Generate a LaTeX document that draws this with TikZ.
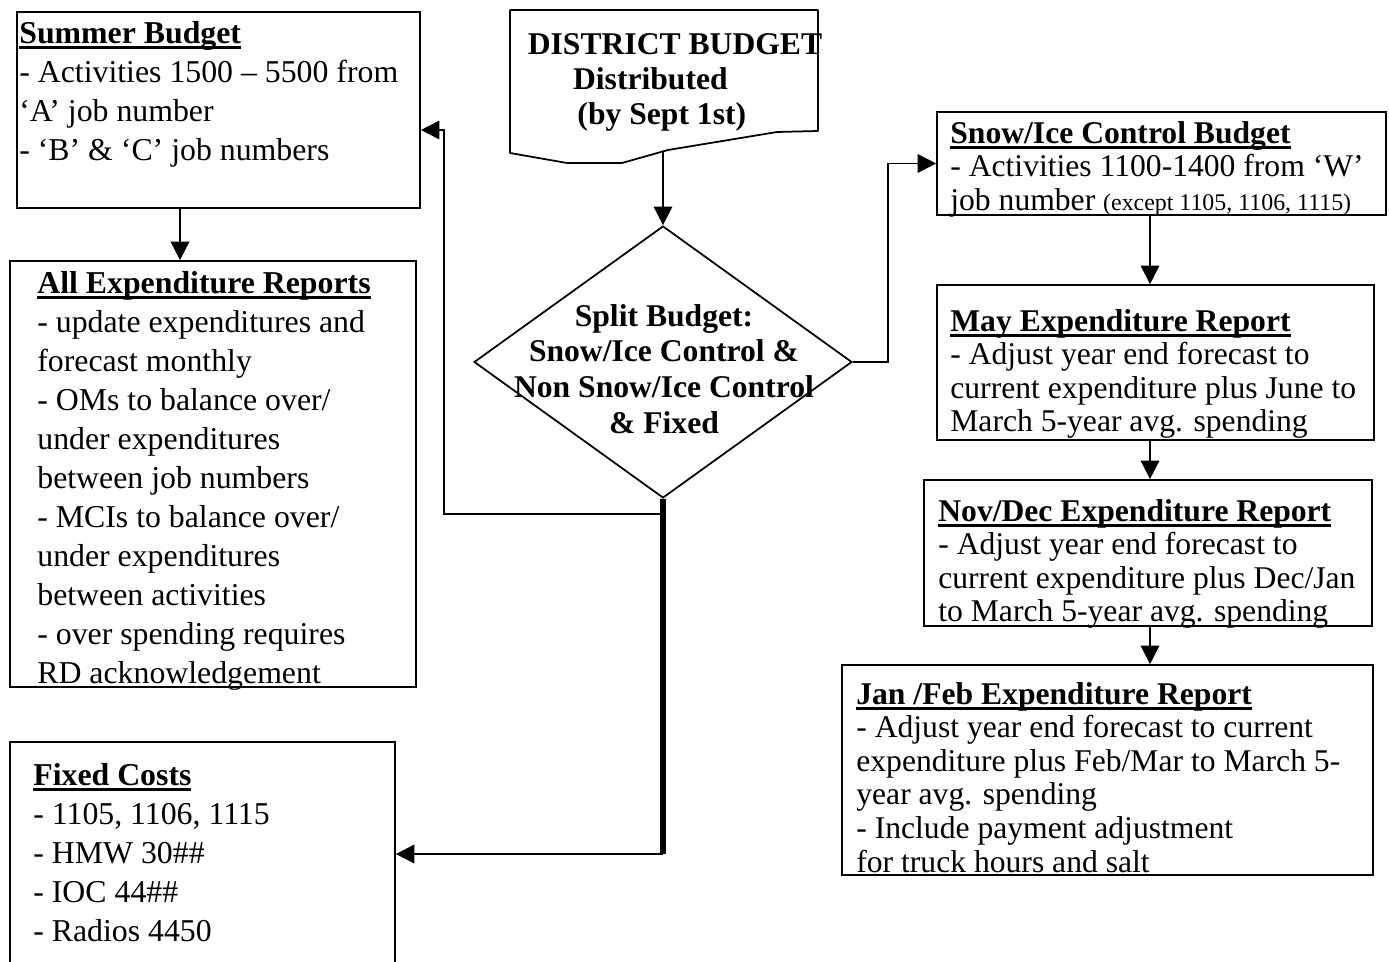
\documentclass[tikz,border=0pt]{standalone}
\usepackage{fontspec}
\setmainfont{Liberation Serif}
\usetikzlibrary{shapes.geometric,arrows.meta,calc}

\newsavebox{\titlebox}
\newcommand{\boxtitle}[1]{\sbox{\titlebox}{\textbf{#1}}\rlap{\rule[-3pt]{\wd\titlebox}{1.5pt}}\usebox{\titlebox}}

\begin{document}
\begin{tikzpicture}[x=0.02cm, y=-0.02cm,
    box/.style={draw, line width=1pt, inner sep=0pt},
    lefttext/.style={anchor=north west, inner sep=0pt, align=left, font=\fontsize{18.1}{22.2}\selectfont},
    righttext/.style={anchor=north west, inner sep=0pt, align=left, font=\fontsize{18}{19.1}\selectfont},
    flow/.style={line width=1pt, -{Triangle[length=10.5pt,width=10.5pt]}}]
    \useasboundingbox (0,0) rectangle (1389,962);

    % left column
    \node[box, minimum width=8.06cm, minimum height=3.92cm] (summer) at (218.5,110) {};
    \node[lefttext] (summertxt) at (19,21) {\boxtitle{Summer Budget}\\- Activities 1500 – 5500 from\\‘A’ job number\\- ‘B’ \& ‘C’ job numbers};

    \node[box, minimum width=8.12cm, minimum height=8.52cm] (allexp) at (213,474) {};
    \node[lefttext] (allexptxt) at (37,271) {\boxtitle{All Expenditure Reports}\\- update expenditures and\\forecast monthly\\- OMs to balance over/\\under expenditures\\between job numbers\\- MCIs to balance over/\\under expenditures\\between activities\\- over spending requires\\RD acknowledgement};

    \node[box, minimum width=7.7cm, minimum height=4.48cm] (fixed) at (202.5,854) {};
    \node[lefttext] (fixedtxt) at (33,763) {\boxtitle{Fixed Costs}\\- 1105, 1106, 1115\\- HMW 30\#\#\\- IOC 44\#\#\\- Radios 4450};

    % middle
    \draw[line width=1pt, line join=round] (510,10) -- (818,10) -- (818,131) -- (777,132) -- (668,150) -- (622,163) -- (567,163) -- (510,153) -- cycle;
    \coordinate (distbot) at (663,151);
    \node[align=center, inner sep=0pt, font=\bfseries\fontsize{18}{19.9}\selectfont] (disttxt) at (675,82) {DISTRICT BUDGET\\Distributed\hspace*{28pt}\null\\(by Sept 1st)\hspace*{15pt}\null};

    \node[diamond, draw, line width=1pt, minimum width=7.56cm, minimum height=5.44cm, inner sep=0pt] (split) at (663,362) {};
    \node[align=center, inner sep=0pt, font=\bfseries\fontsize{18}{20.3}\selectfont] (splittxt) at (664,369) {Split Budget:\\Snow/Ice Control \&\\Non Snow/Ice Control\\\& Fixed};

    % right column
    \node[box, minimum width=8.98cm, minimum height=2.06cm] (snow) at (1161.5,163.5) {};
    \node[righttext] (snowtxt) at (950,121) {\boxtitle{Snow/Ice Control Budget}\\- Activities 1100-1400 from ‘W’\\job number {\fontsize{13.6}{16}\selectfont (except 1105, 1106, 1115)}};

    \node[box, minimum width=8.74cm, minimum height=3.1cm] (may) at (1155.5,362.5) {};
    \node[righttext] (maytxt) at (950,309) {\boxtitle{May Expenditure Report}\\- Adjust year end forecast to\\current expenditure plus June to\\March 5-year avg. spending};

    \node[box, minimum width=8.96cm, minimum height=2.92cm] (novdec) at (1148,553) {};
    \node[righttext] (novdectxt) at (938,499) {\boxtitle{Nov/Dec Expenditure Report}\\- Adjust year end forecast to\\current expenditure plus Dec/Jan\\to March 5-year avg. spending};

    \node[box, minimum width=10.62cm, minimum height=4.2cm] (janfeb) at (1107.5,770) {};
    \node[righttext] (janfebtxt) at (856,682) {\boxtitle{Jan /Feb Expenditure Report}\\- Adjust year end forecast to current\\expenditure plus Feb/Mar to March 5-\\year avg. spending\\- Include payment adjustment\\for truck hours and salt};

    % connectors
    \coordinate (leftspine) at (180,0);
    \coordinate (rightspine) at (1150,0);
    \coordinate (fork) at ($(split.south)+(0,15)$);
    \coordinate (summerin) at ($(summer.east)+(0,20)$);

    \draw[flow] (summer.south -| leftspine) -- (allexp.north -| leftspine);
    \draw[flow] (distbot) -- (split.north);
    \draw[flow] (split.east) -- ++(35,0) |- (snow.west);
    \draw[flow] (fork) -| ($(summerin)+(23,0)$) -- (summerin);
    \draw[line width=3pt] (split.south) -- (split.south |- fixed.east);
    \draw[flow] (split.south |- fixed.east) -- (fixed.east);

    \draw[flow] (snow.south -| rightspine) -- (may.north -| rightspine);
    \draw[flow] (may.south -| rightspine) -- (novdec.north -| rightspine);
    \draw[flow] (novdec.south -| rightspine) -- (janfeb.north -| rightspine);
\end{tikzpicture}
\end{document}
